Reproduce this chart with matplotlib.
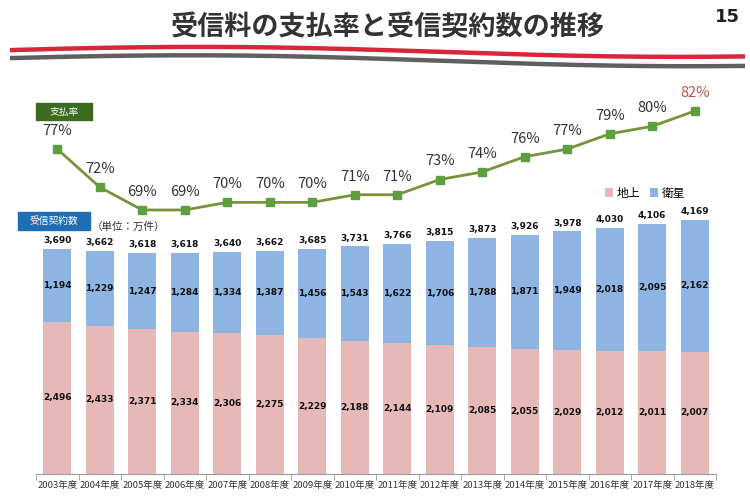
import matplotlib
matplotlib.use("Agg")
import matplotlib.pyplot as plt
import numpy as np
from matplotlib.patches import Rectangle

plt.rcParams['font.family'] = ['Noto Sans CJK JP', 'DejaVu Sans']

years = ["2003年度", "2004年度", "2005年度", "2006年度", "2007年度", "2008年度", "2009年度", "2010年度",
         "2011年度", "2012年度", "2013年度", "2014年度", "2015年度", "2016年度", "2017年度", "2018年度"]
ground = [2496, 2433, 2371, 2334, 2306, 2275, 2229, 2188, 2144, 2109, 2085, 2055, 2029, 2012, 2011, 2007]
satellite = [1194, 1229, 1247, 1284, 1334, 1387, 1456, 1543, 1622, 1706, 1788, 1871, 1949, 2018, 2095, 2162]
totals = [3690, 3662, 3618, 3618, 3640, 3662, 3685, 3731, 3766, 3815, 3873, 3926, 3978, 4030, 4106, 4169]
rate = [77, 72, 69, 69, 70, 70, 70, 71, 71, 73, 74, 76, 77, 79, 80, 82]

W, H = 750, 500
fig = plt.figure(figsize=(7.5, 5), dpi=100)

PINK = "#e6b9b8"
BLUE = "#8db4e2"

# ---- Decoration overlay (behind) ----
deco = fig.add_axes([0, 0, 1, 1], zorder=-1)
deco.set_xlim(0, W)
deco.set_ylim(H, 0)
deco.axis("off")

# ---- Bars axes ----
L, R = 36, 716
axb = fig.add_axes([L / W, (H - 474) / H, (R - L) / W, 264 / H])
axb.patch.set_visible(False)
x = np.arange(len(years))
axb.bar(x, ground, width=0.66, color=PINK, label="地上")
axb.bar(x, satellite, bottom=ground, width=0.66, color=BLUE, label="衛星")
axb.set_xlim(-0.5, len(years) - 0.5)
axb.set_ylim(0, 264 / 0.061)
for s in ["top", "right", "left"]:
    axb.spines[s].set_visible(False)
axb.spines["bottom"].set_color("#9a9a9a")
axb.set_yticks([])
axb.set_xticks(x)
axb.set_xticklabels(years, fontsize=6.8, color="#333333")
axb.tick_params(axis="x", length=0, pad=5)
axb.set_xticks(np.arange(-0.5, len(years)), minor=True)
axb.tick_params(axis="x", which="minor", length=4, color="#9a9a9a")

for i in range(len(years)):
    axb.text(x[i], ground[i] / 2, f"{ground[i]:,}", ha="center", va="center",
             fontsize=6.5, fontweight="bold", color="#111111", family="DejaVu Sans")
    axb.text(x[i], ground[i] + satellite[i] / 2, f"{satellite[i]:,}", ha="center", va="center",
             fontsize=6.5, fontweight="bold", color="#111111", family="DejaVu Sans")
    axb.annotate(f"{totals[i]:,}", (x[i], totals[i]), xytext=(0, 6), textcoords="offset points",
                 ha="center", va="center", fontsize=6.5, fontweight="bold", color="#111111",
                 family="DejaVu Sans")

axb.legend(loc="center left", bbox_to_anchor=(605 / W, 1 - 193 / H), bbox_transform=fig.transFigure,
           ncol=2, frameon=False, fontsize=8.5, handlelength=0.7, handleheight=0.7,
           handletextpad=0.3, columnspacing=0.8, borderaxespad=0, borderpad=0)

# ---- Line axes ----
axl = fig.add_axes([L / W, (H - 220) / H, (R - L) / W, 120 / H])
axl.set_xlim(-0.5, len(years) - 0.5)
axl.set_ylim(69 - 10 / 7.6, 82 + 11 / 7.6)
axl.plot(x, rate, color="#77933c", lw=2, marker="s", markersize=6,
         markerfacecolor="#5f9e3e", markeredgecolor="#5f9e3e")
axl.axis("off")
for i in range(len(years)):
    c = "#c0504d" if i == len(years) - 1 else "#333333"
    axl.annotate(f"{rate[i]}%", (x[i], rate[i]), xytext=(0, 13), textcoords="offset points",
                 ha="center", va="center", fontsize=10.5, color=c)

xs = np.linspace(10, 745, 200)
red_y = 51 - 4.5 * np.sin((xs - 10) / 735 * 2 * np.pi * 0.8 + 0.2) + 1.5 * (xs - 10) / 735
deco.plot(xs, red_y, color="#d9263a", lw=3.2, solid_capstyle="butt")
gray_y = red_y + 8 + 1.5 * (xs - 10) / 735
deco.plot(xs, gray_y, color="#5f5f5f", lw=3.2, solid_capstyle="butt")

deco.text(388, 27, "受信料の支払率と受信契約数の推移", ha="center", va="center",
          fontsize=19.5, fontweight="bold", color="#333333")
deco.text(727, 17, "15", ha="center", va="center", fontsize=13,
          fontweight="bold", color="#222222", family="DejaVu Sans")

# label boxes
deco.add_patch(Rectangle((36, 103), 56, 17, color="#3b6b1f"))
deco.text(64, 111.5, "支払率", ha="center", va="center", fontsize=7, color="white")
deco.add_patch(Rectangle((18, 212), 72, 18, color="#1f6db5"))
deco.text(54, 221, "受信契約数", ha="center", va="center", fontsize=7, color="white")
deco.text(92, 227, "（単位：万件）", ha="left", va="center", fontsize=7.6, color="#333333")

fig.savefig("out.png", dpi=100)
